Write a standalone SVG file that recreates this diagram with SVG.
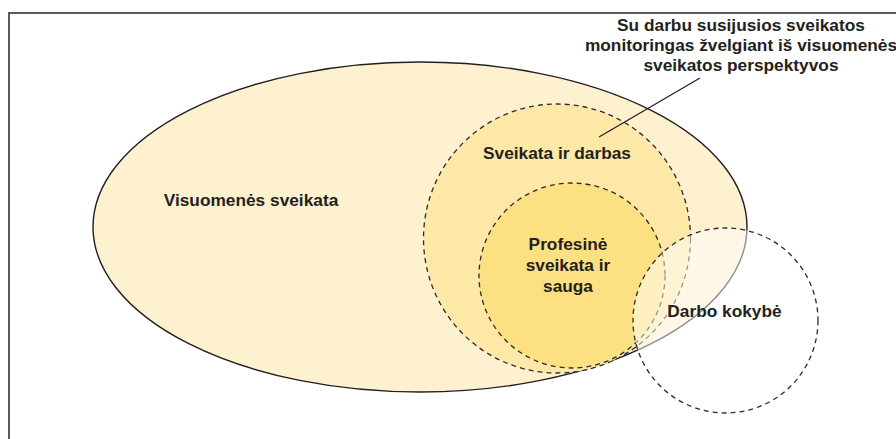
<svg xmlns="http://www.w3.org/2000/svg" width="896" height="439" viewBox="0 0 896 439">
<style>
.lbl{font-family:"Liberation Sans",Arial,sans-serif;font-weight:bold;font-size:17.3px;fill:#231f20;text-anchor:middle}
.dash{stroke:#2b2b2b;stroke-width:1.3;stroke-dasharray:5 4}
</style>
<rect x="9" y="13" width="920" height="460" fill="#fff" stroke="#5a5a5a" stroke-width="2"/>
<g id="visuomenes">
<ellipse cx="420" cy="227" rx="327" ry="165" fill="#fef1d0" stroke="#231f20" stroke-width="1.4"/>
<text class="lbl" x="251" y="206">Visuomenės sveikata</text>
</g>
<g id="sveikata-darbas">
<ellipse cx="557" cy="238.5" rx="133.5" ry="134.5" fill="#fde8a8" class="dash"/>
<text class="lbl" x="557" y="159">Sveikata ir darbas</text>
</g>
<g id="profesine">
<ellipse cx="572" cy="275.5" rx="93" ry="92.5" fill="#fde082" class="dash"/>
<text class="lbl" x="568" y="250">Profesinė</text>
<text class="lbl" x="568" y="271">sveikata ir</text>
<text class="lbl" x="568" y="292">sauga</text>
</g>
<g id="darbo-kokybe">
<circle cx="725.5" cy="320.5" r="92.5" fill="#ffffff" fill-opacity="0.5" class="dash"/>
<text class="lbl" x="724.5" y="317">Darbo kokybė</text>
</g>
<g id="monitoringas">
<text class="lbl" x="741" y="31">Su darbu susijusios sveikatos</text>
<text class="lbl" x="741" y="51">monitoringas žvelgiant iš visuomenės</text>
<text class="lbl" x="741" y="71">sveikatos perspektyvos</text>
</g>
<g id="connectors">
<line x1="700" y1="78" x2="599" y2="137" stroke="#231f20" stroke-width="1.3"/>
</g>
</svg>
